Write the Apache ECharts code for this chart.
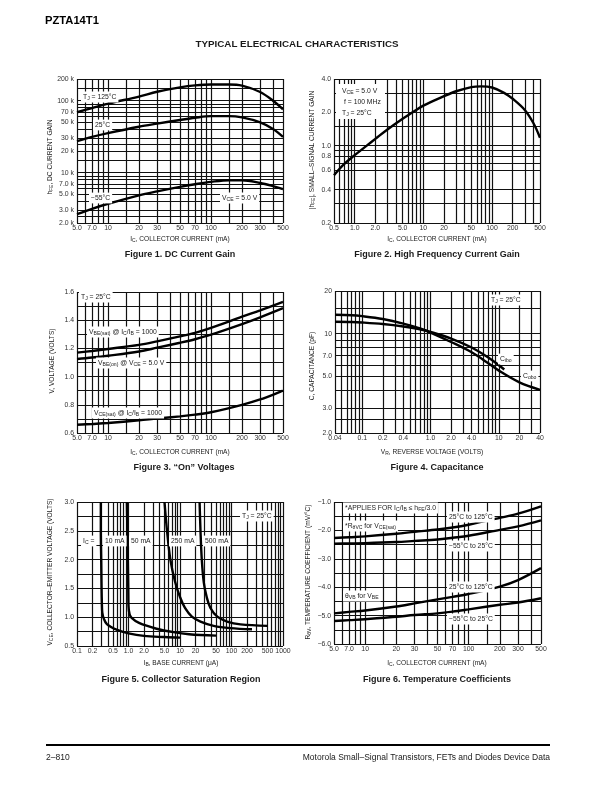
<!DOCTYPE html>
<html><head><meta charset="utf-8">
<script src="https://cdn.jsdelivr.net/npm/echarts@6/dist/echarts.min.js"></script>
<style>html,body{margin:0;padding:0;background:#fff}#c{width:612px;height:792px}</style>
</head><body><div id="c"></div>
<script>
// ================= DATA =================
// Figure 1. DC Current Gain (IC mA -> hFE)
const fig1_ic = [5, 7, 10, 20, 30, 50, 70, 100, 150, 200, 300, 400, 500];
const fig1_hfe_125 = [69000, 79000, 91000, 114000, 133000, 153000, 163000, 168000, 168000, 162000, 132000, 100000, 76000];
const fig1_hfe_25 = [27500, 31500, 35500, 43500, 48000, 54000, 58000, 61000, 61000, 58500, 50000, 40500, 31500];
const fig1_hfe_m55 = [2650, 3150, 3700, 4850, 5500, 6350, 6900, 7450, 7850, 7850, 7200, 6500, 5900];
const fig1_xticks = [[5,'5.0'],[7,'7.0'],[10,'10'],[20,'20'],[30,'30'],[50,'50'],[70,'70'],[100,'100'],[200,'200'],[300,'300'],[500,'500']];
const fig1_yticks = [[2000,'2.0 k'],[3000,'3.0 k'],[5000,'5.0 k'],[7000,'7.0 k'],[10000,'10 k'],[20000,'20 k'],[30000,'30 k'],[50000,'50 k'],[70000,'70 k'],[100000,'100 k'],[200000,'200 k']];

// Figure 2. High Frequency Current Gain (IC mA -> |hfe|)
const fig2_ic = [0.5, 0.7, 1.0, 1.5, 2.0, 3.0, 5.0, 7.0, 10, 20, 30, 50, 70, 100, 150, 200, 300, 400, 500];
const fig2_hfe = [0.54, 0.68, 0.82, 1.0, 1.15, 1.4, 1.75, 2.0, 2.3, 2.8, 3.1, 3.38, 3.43, 3.35, 3.0, 2.65, 2.1, 1.6, 1.18];
const fig2_xticks = [[0.5,'0.5'],[1,'1.0'],[2,'2.0'],[5,'5.0'],[10,'10'],[20,'20'],[50,'50'],[100,'100'],[200,'200'],[500,'500']];
const fig2_yticks = [[0.2,'0.2'],[0.4,'0.4'],[0.6,'0.6'],[0.8,'0.8'],[1,'1.0'],[2,'2.0'],[4,'4.0']];

// Figure 3. "On" Voltages (IC mA -> V)
const fig3_ic = [5, 7, 10, 20, 30, 50, 70, 100, 200, 300, 500];
const fig3_vbe_sat = [1.17, 1.182, 1.196, 1.225, 1.25, 1.285, 1.31, 1.345, 1.425, 1.47, 1.53];
const fig3_vbe_on = [1.125, 1.135, 1.148, 1.178, 1.205, 1.24, 1.265, 1.297, 1.372, 1.42, 1.485];
const fig3_vce_sat = [0.658, 0.664, 0.671, 0.69, 0.703, 0.718, 0.73, 0.747, 0.8, 0.838, 0.9];
const fig3_xticks = fig1_xticks;
const fig3_yticks = [[0.6,'0.6'],[0.8,'0.8'],[1.0,'1.0'],[1.2,'1.2'],[1.4,'1.4'],[1.6,'1.6']];

// Figure 4. Capacitance (VR volts -> pF)
const fig4_vr_cobo = [0.04, 0.07, 0.1, 0.2, 0.4, 0.7, 1.0, 2.0, 4.0, 7.0, 10, 20, 40];
const fig4_cobo = [13.6, 13.5, 13.3, 12.7, 11.8, 10.9, 10.2, 8.75, 7.4, 6.2, 5.5, 4.55, 4.03];
const fig4_vr_cibo = [0.04, 0.07, 0.1, 0.2, 0.4, 0.7, 1.0, 2.0, 4.0, 7.0, 10, 12];
const fig4_cibo = [12.15, 12.1, 12.0, 11.7, 11.25, 10.75, 10.3, 9.25, 8.0, 6.8, 6.0, 5.6];
const fig4_xticks = [[0.04,'0.04'],[0.1,'0.1'],[0.2,'0.2'],[0.4,'0.4'],[1,'1.0'],[2,'2.0'],[4,'4.0'],[10,'10'],[20,'20'],[40,'40']];
const fig4_yticks = [[2,'2.0'],[3,'3.0'],[5,'5.0'],[7,'7.0'],[10,'10'],[20,'20']];

// Figure 5. Collector Saturation Region (IB uA, VCE volts)
const fig5_10mA = [[0.29,3.0],[0.29,2.5],[0.295,2.0],[0.3,1.5],[0.305,1.2],[0.31,1.08],[0.33,0.98],[0.38,0.88],[0.6,0.78],[1.0,0.72],[2.0,0.675],[5.0,0.655],[10,0.645]];
const fig5_50mA = [[0.93,3.0],[0.95,2.5],[0.97,2.0],[0.99,1.5],[1.0,1.2],[1.05,1.05],[1.15,0.99],[1.6,0.9],[3.5,0.8],[7.5,0.74],[15,0.705],[50,0.68]];
const fig5_250mA = [[5.0,3.0],[5.6,2.5],[6.5,2.0],[8.0,1.62],[10,1.35],[12.5,1.16],[17,1.01],[25,0.925],[45,0.85],[95,0.81],[250,0.79]];
const fig5_500mA = [[24,3.0],[25,2.5],[26.5,2.0],[29,1.6],[33,1.35],[39,1.16],[53,1.01],[82,0.925],[150,0.875],[500,0.85]];
const fig5_xticks = [[0.1,'0.1'],[0.2,'0.2'],[0.5,'0.5'],[1,'1.0'],[2,'2.0'],[5,'5.0'],[10,'10'],[20,'20'],[50,'50'],[100,'100'],[200,'200'],[500,'500'],[1000,'1000']];
const fig5_yticks = [[0.5,'0.5'],[1.0,'1.0'],[1.5,'1.5'],[2.0,'2.0'],[2.5,'2.5'],[3.0,'3.0']];

// Figure 6. Temperature Coefficients (IC mA -> mV/°C)
const fig6_ic = [5, 7, 10, 20, 30, 50, 70, 100, 200, 300, 500];
const fig6_vc_25_125 = [-2.27, -2.24, -2.21, -2.12, -2.05, -1.97, -1.9, -1.8, -1.56, -1.41, -1.15];
const fig6_vc_m55_25 = [-2.47, -2.46, -2.45, -2.41, -2.37, -2.32, -2.26, -2.19, -1.98, -1.86, -1.65];
const fig6_vb_25_125 = [-4.92, -4.87, -4.82, -4.68, -4.57, -4.43, -4.34, -4.24, -3.98, -3.75, -3.33];
const fig6_vb_m55_25 = [-5.19, -5.16, -5.13, -5.04, -4.98, -4.92, -4.86, -4.78, -4.62, -4.54, -4.39];
const fig6_xticks = fig1_xticks;
const fig6_yticks = [[-1,'\u22121.0'],[-2,'\u22122.0'],[-3,'\u22123.0'],[-4,'\u22124.0'],[-5,'\u22125.0'],[-6,'\u22126.0']];

// ================= GRID LINE VALUES =================
const grid_x_5_500 = [5,6,7,8,9,10,15,20,30,40,50,60,70,80,90,100,150,200,300,400,500];
const grid_y_fig1 = [2000,2500,3000,4000,5000,6000,7000,8000,9000,10000,15000,20000,25000,30000,40000,50000,60000,70000,80000,90000,100000,150000,200000];
const grid_y_fig2 = [0.2,0.3,0.4,0.6,0.7,0.8,0.9,1,1.5,2,3,4];
const grid_y_fig4 = [2,2.5,3,4,5,6,7,8,9,10,15,20];

// ================= HELPERS =================
const FF = '"Liberation Sans", Arial, Helvetica, sans-serif';
const INK = '#1a1a1a';
const TICK_FS = 6.9, LABEL_FS = 6.8, TITLE_FS = 6.6;
function logGrid(min, max) {
  const out = [];
  for (let e = -3; e <= 6; e++) for (let m = 1; m <= 9; m++) {
    const v = +(m * Math.pow(10, e)).toPrecision(6);
    if (v >= min * 0.99999 && v <= max * 1.00001) out.push(v);
  }
  return out;
}
function linGrid(min, max, step) {
  const out = []; const n = Math.round((max - min) / step);
  for (let i = 0; i <= n; i++) out.push(+(min + i * step).toFixed(6));
  return out;
}
function findLabel(ticks, v) {
  for (const t of ticks) if (Math.abs(t[0] - v) <= Math.abs(v) * 1e-6 + 1e-9) return t[1];
  return null;
}
function gridSeries(idx, xmin, ymin, xGrid, xTicks, yGrid, yTicks) {
  const data = [];
  const lab = (txt, horiz) => txt == null ? { show: false } :
    { show: true, position: 'start', formatter: txt, distance: horiz ? 3 : 2, fontSize: TICK_FS, fontFamily: FF, color: '#333' };
  xGrid.forEach(v => data.push({ xAxis: v, label: lab(findLabel(xTicks, v), false) }));
  yGrid.forEach(v => data.push({ yAxis: v, label: lab(findLabel(yTicks, v), true) }));
  return {
    type: 'line', xAxisIndex: idx, yAxisIndex: idx, data: [[xmin, ymin]], symbol: 'none', z: 1,
    lineStyle: { opacity: 0 }, silent: true, animation: false,
    markLine: { silent: true, z: 1, animation: false, symbol: ['none', 'none'],
      lineStyle: { color: '#111', width: 1.2, type: 'solid' }, emphasis: { disabled: true },
      label: { show: false }, data: data }
  };
}
function curve(idx, data) {
  return { type: 'line', xAxisIndex: idx, yAxisIndex: idx, data: data, showSymbol: false, symbol: 'none',
    smooth: 0.35, z: 10, silent: true, animation: false, clip: true,
    lineStyle: { color: '#000', width: 2.4 } };
}
function zip(xs, ys) { return xs.map((x, i) => [x, ys[i]]); }
function rt(s) {
  let out = '', last = 0, m; const re = /_\{([^}]*)\}/g;
  while ((m = re.exec(s))) {
    if (m.index > last) out += '{n|' + s.slice(last, m.index) + '}';
    out += '{s|' + m[1] + '}'; last = re.lastIndex;
  }
  if (last < s.length) out += '{n|' + s.slice(last) + '}';
  return out;
}
function richStyles(fs, col) {
  return { n: { fontSize: fs, fontFamily: FF, fill: col, lineHeight: fs + 2 },
           s: { fontSize: fs * 0.75, fontFamily: FF, fill: col, lineHeight: 4, verticalAlign: 'bottom' } };
}
function T(x, y, text, o) {
  o = o || {};
  const fs = o.fs || LABEL_FS, col = o.color || INK;
  const st = { text: rt(text), rich: richStyles(fs, col), fill: col, fontSize: fs, fontFamily: FF,
    align: o.align || 'left', verticalAlign: 'middle' };
  if (o.bg) { st.backgroundColor = '#fff'; st.padding = [1, 2, 1, 2]; }
  return { type: 'text', x: x, y: y, z: 100, rotation: o.rot || 0, silent: true, style: st };
}
function P(x, y, text, fs, weight, align) {
  return { type: 'text', x: x, y: y, z: 100, silent: true,
    style: { text: text, fill: INK, fontSize: fs, fontWeight: weight || 'normal', fontFamily: FF, align: align || 'center', verticalAlign: 'middle' } };
}

// ================= OPTION =================
const grids = [
  { left: 77, top: 79, width: 206, height: 144 },
  { left: 334, top: 79, width: 206, height: 144 },
  { left: 77, top: 292, width: 206, height: 141 },
  { left: 335, top: 291, width: 205, height: 142 },
  { left: 77, top: 502, width: 206, height: 144 },
  { left: 334, top: 502, width: 207, height: 142 }
];
const hid = { axisLine: { show: false }, axisTick: { show: false }, axisLabel: { show: false }, splitLine: { show: false } };
const xr = [[5, 500], [0.5, 500], [5, 500], [0.04, 40], [0.1, 1000], [5, 500]];
const yr = [[2000, 200000, 'log'], [0.2, 4, 'log'], [0.6, 1.6, 'value'], [2, 20, 'log'], [0.5, 3.0, 'value'], [-6, -1, 'value']];
const xAxis = xr.map((r, i) => Object.assign({ gridIndex: i, type: 'log', logBase: 10, min: r[0], max: r[1] }, hid));
const yAxis = yr.map((r, i) => Object.assign({ gridIndex: i, type: r[2], min: r[0], max: r[1] }, r[2] === 'log' ? { logBase: 10 } : {}, hid));

const series = [
  gridSeries(0, 5, 2000, grid_x_5_500, fig1_xticks, grid_y_fig1, fig1_yticks),
  gridSeries(1, 0.5, 0.2, logGrid(0.5, 500), fig2_xticks, grid_y_fig2, fig2_yticks),
  gridSeries(2, 5, 0.6, grid_x_5_500, fig3_xticks, linGrid(0.6, 1.6, 0.1), fig3_yticks),
  gridSeries(3, 0.04, 2, logGrid(0.04, 40), fig4_xticks, grid_y_fig4, fig4_yticks),
  gridSeries(4, 0.1, 0.5, logGrid(0.1, 1000), fig5_xticks, linGrid(0.5, 3.0, 0.25), fig5_yticks),
  gridSeries(5, 5, -6, grid_x_5_500, fig6_xticks, linGrid(-6, -1, 0.5), fig6_yticks),
  curve(0, zip(fig1_ic, fig1_hfe_125)), curve(0, zip(fig1_ic, fig1_hfe_25)), curve(0, zip(fig1_ic, fig1_hfe_m55)),
  curve(1, zip(fig2_ic, fig2_hfe)),
  curve(2, zip(fig3_ic, fig3_vbe_sat)), curve(2, zip(fig3_ic, fig3_vbe_on)), curve(2, zip(fig3_ic, fig3_vce_sat)),
  curve(3, zip(fig4_vr_cobo, fig4_cobo)), curve(3, zip(fig4_vr_cibo, fig4_cibo)),
  curve(4, fig5_10mA), curve(4, fig5_50mA), curve(4, fig5_250mA), curve(4, fig5_500mA),
  curve(5, zip(fig6_ic, fig6_vc_25_125)), curve(5, zip(fig6_ic, fig6_vc_m55_25)),
  curve(5, zip(fig6_ic, fig6_vb_25_125)), curve(5, zip(fig6_ic, fig6_vb_m55_25))
];

const R90 = Math.PI / 2;
const AT = { align: 'center', fs: TITLE_FS };
const ATR = { align: 'center', fs: TITLE_FS, rot: R90 };
const graphic = [
  { type: 'text', x: 45, y: 21, z: 100, style: { text: 'PZTA14T1', fill: '#000', fontSize: 11.2, fontWeight: 900, fontFamily: FF, align: 'left', verticalAlign: 'middle' } },
  P(297, 44, 'TYPICAL ELECTRICAL CHARACTERISTICS', 9.8, 'bold'),
  // Figure 1
  T(180, 239, 'I_{C}, COLLECTOR CURRENT (mA)', AT),
  T(50, 157, 'h_{FE}, DC CURRENT GAIN', ATR),
  P(180, 255, 'Figure 1. DC Current Gain', 9, 'bold'),
  T(81, 97, 'T_{J} = 125°C', { bg: 1 }),
  T(93, 125, '25°C', { bg: 1 }),
  T(89, 198, '\u221255°C', { bg: 1 }),
  T(220, 198, 'V_{CE} = 5.0 V', { bg: 1 }),
  // Figure 2
  T(437, 239, 'I_{C}, COLLECTOR CURRENT (mA)', AT),
  T(312, 150, '|h_{FE}|, SMALL\u2013SIGNAL CURRENT GAIN', ATR),
  P(437, 255, 'Figure 2. High Frequency Current Gain', 9, 'bold'),
  { type: 'rect', z: 90, silent: true, shape: { x: 336, y: 84, width: 49, height: 35 }, style: { fill: '#fff' } },
  T(342, 91, 'V_{CE} = 5.0 V'),
  T(344, 102, 'f = 100 MHz'),
  T(342, 113, 'T_{J} = 25°C'),
  // Figure 3
  T(180, 452, 'I_{C}, COLLECTOR CURRENT (mA)', AT),
  T(52, 361, 'V, VOLTAGE (VOLTS)', ATR),
  P(184, 468, 'Figure 3. \u201COn\u201D Voltages', 9, 'bold'),
  T(79, 297, 'T_{J} = 25°C', { bg: 1 }),
  T(87, 332, 'V_{BE(sat)} @ I_{C}/I_{B} = 1000', { bg: 1 }),
  T(96, 363, 'V_{BE(on)} @ V_{CE} = 5.0 V', { bg: 1 }),
  T(92, 413, 'V_{CE(sat)} @ I_{C}/I_{B} = 1000', { bg: 1 }),
  // Figure 4
  T(432, 452, 'V_{R}, REVERSE VOLTAGE (VOLTS)', AT),
  T(312, 366, 'C, CAPACITANCE (pF)', ATR),
  P(437, 468, 'Figure 4. Capacitance', 9, 'bold'),
  T(489, 300, 'T_{J} = 25°C', { bg: 1 }),
  T(498, 359, 'C_{ibo}', { bg: 1 }),
  T(521, 376, 'C_{obo}', { bg: 1 }),
  // Figure 5
  T(181, 663, 'I_{B}, BASE CURRENT (\u03BCA)', AT),
  T(50, 572, 'V_{CE}, COLLECTOR\u2013EMITTER VOLTAGE (VOLTS)', ATR),
  P(181, 680, 'Figure 5. Collector Saturation Region', 9, 'bold'),
  T(81, 541, 'I_{C} =', { bg: 1 }),
  T(103, 541, '10 mA', { bg: 1 }),
  T(129, 541, '50 mA', { bg: 1 }),
  T(169, 541, '250 mA', { bg: 1 }),
  T(203, 541, '500 mA', { bg: 1 }),
  T(240, 516, 'T_{J} = 25°C', { bg: 1 }),
  // Figure 6
  T(437, 663, 'I_{C}, COLLECTOR CURRENT (mA)', AT),
  T(308, 572, 'R_{\u03B8V}, TEMPERATURE COEFFICIENT (mV/°C)', ATR),
  P(437, 680, 'Figure 6. Temperature Coefficients', 9, 'bold'),
  T(343, 508, '*APPLIES FOR I_{C}/I_{B} \u2264 h_{FE}/3.0', { bg: 1 }),
  T(343, 526, '*R_{\u03B8VC} for V_{CE(sat)}', { bg: 1 }),
  T(447, 517, '25°C to 125°C', { bg: 1 }),
  T(447, 546, '\u221255°C to 25°C', { bg: 1 }),
  T(447, 587, '25°C to 125°C', { bg: 1 }),
  T(343, 596, '\u03B8_{VB} for V_{BE}', { bg: 1 }),
  T(447, 619, '\u221255°C to 25°C', { bg: 1 }),
  // Footer
  { type: 'line', z: 100, silent: true, shape: { x1: 46, y1: 745, x2: 550, y2: 745 }, style: { stroke: '#000', lineWidth: 2.2 } },
  P(46, 758, '2\u2013810', 8.5, 'normal', 'left'),
  P(550, 758, 'Motorola Small\u2013Signal Transistors, FETs and Diodes Device Data', 8.5, 'normal', 'right')
];

const chart = echarts.init(document.getElementById('c'), null, { renderer: 'canvas', width: 612, height: 792 });
chart.setOption({ backgroundColor: '#fff', animation: false, grid: grids, xAxis: xAxis, yAxis: yAxis, series: series, graphic: graphic });
</script></body></html>
